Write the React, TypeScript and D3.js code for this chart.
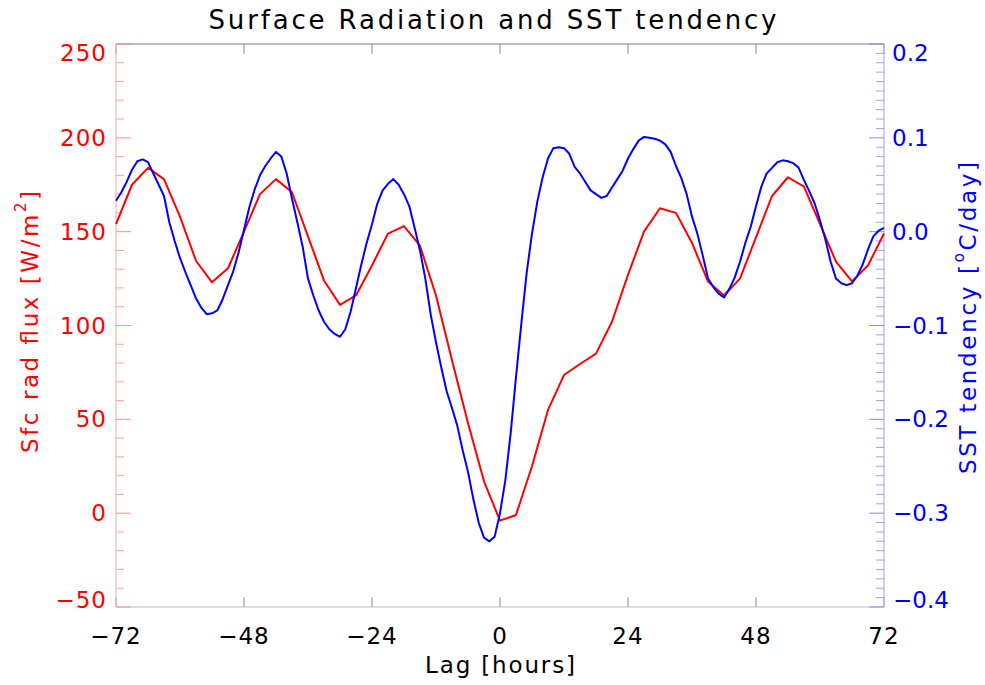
import React from "react";
import * as d3 from "d3";

const W = 985;
const H = 685;

// Red: surface radiative flux, every 3 hours from -72 to 72
const redHours = d3.range(-72, 73, 3);
const redValues = [
  154, 175, 184, 178, 158, 134.5, 123, 130.5, 150, 170, 178, 171, 147.5, 124, 111, 116, 132,
  149, 153, 142.5, 116, 81.5, 48, 17, -4, -1, 25, 55, 73.6, 79.5, 85, 102, 127, 150, 162.5,
  160, 144, 123.5, 116, 125, 147, 169, 179, 174, 154, 134, 123.5, 132, 149,
];

// Blue: SST tendency, hourly from -72 to 72
const blueHours = d3.range(-72, 73, 1);
const blueValues = [
  0.033, 0.042, 0.053, 0.066, 0.075, 0.077, 0.074, 0.062, 0.05, 0.038, 0.01, -0.01, -0.028,
  -0.043, -0.057, -0.071, -0.081, -0.088, -0.087, -0.084, -0.072, -0.057, -0.042, -0.022,
  0.002, 0.026, 0.045, 0.06, 0.07, 0.078, 0.085, 0.08, 0.062, 0.035, 0.01, -0.016, -0.05,
  -0.068, -0.084, -0.096, -0.104, -0.109, -0.112, -0.104, -0.085, -0.06, -0.035, -0.012,
  0.008, 0.03, 0.044, 0.051, 0.056, 0.05, 0.04, 0.027, 0.004, -0.02, -0.05, -0.088, -0.118,
  -0.145, -0.17, -0.188, -0.207, -0.233, -0.256, -0.285, -0.31, -0.326, -0.33, -0.325, -0.3,
  -0.265, -0.215, -0.155, -0.098, -0.044, -0.002, 0.032, 0.058, 0.078, 0.089, 0.09, 0.089,
  0.083, 0.069, 0.062, 0.053, 0.044, 0.04, 0.036, 0.038, 0.047, 0.056, 0.065, 0.078, 0.088,
  0.097, 0.101, 0.1, 0.099, 0.097, 0.093, 0.085, 0.07, 0.057, 0.04, 0.016, -0.002, -0.025,
  -0.05, -0.059, -0.066, -0.07, -0.061, -0.049, -0.032, -0.012, 0.005, 0.027, 0.048, 0.062,
  0.068, 0.074, 0.076, 0.075, 0.073, 0.068, 0.055, 0.043, 0.03, 0.012, -0.008, -0.032, -0.05,
  -0.055, -0.057, -0.055, -0.047, -0.035, -0.019, -0.005, 0.001, 0.004,
];

const xTicks = [-72, -48, -24, 0, 24, 48, 72];
const leftTicks = [-50, 0, 50, 100, 150, 200, 250];
const rightTicks = [-0.4, -0.3, -0.2, -0.1, 0.0, 0.1, 0.2];

const title = "Surface Radiation and SST tendency";
const xTitle = "Lag [hours]";

const L = 116, R = 884, T = 44, B = 607;
const FONT = "DejaVu Sans";

const fmtMinus = (s: string) => s.replace("-", "\u2212");

export default function App() {
  const x = d3.scaleLinear().domain([-72, 72]).range([L, R]);
  const yL = d3.scaleLinear().domain([-50, 250]).range([B, T]);
  const yR = d3.scaleLinear().domain([-0.4, 0.2]).range([B, T]);

  const redLine = d3
    .line<number>()
    .x((_, i) => x(redHours[i]))
    .y((d) => yL(d));
  const blueLine = d3
    .line<number>()
    .x((_, i) => x(blueHours[i]))
    .y((d) => yR(d));

  const leftMinor = d3.range(-50, 251, 10);
  const rightMinor = d3.range(-40, 21, 1).map((v) => v / 100);

  const labelY = (py: number) => (py <= T + 1 ? py + 9 : py >= B - 1 ? py - 7 : py);

  return (
    <svg
      width={W}
      height={H}
      style={{ position: "absolute", left: 0, top: 0, background: "#fff" }}
      fontFamily={FONT}
    >
      <rect x={0} y={0} width={W} height={H} fill="#fff" />
      {/* x axes top and bottom */}
      <line x1={L} x2={R} y1={T} y2={T} stroke="#7a7a7a" strokeWidth={1} />
      <line x1={L} x2={R} y1={B} y2={B} stroke="#bdbdbd" strokeWidth={1} />
      {xTicks.map((t) => (
        <g key={"xt" + t}>
          <line x1={x(t)} x2={x(t)} y1={B} y2={B - 10} stroke="#8a8a8a" />
          <line x1={x(t)} x2={x(t)} y1={T} y2={T + 10} stroke="#8a8a8a" />
          <text
            x={x(t)}
            y={636}
            fontSize={23}
            textAnchor="middle"
            dominantBaseline="central"
            fill="#000"
            letterSpacing={1}
          >
            {fmtMinus(String(t))}
          </text>
        </g>
      ))}
      <text
        x={(L + R) / 2}
        y={665}
        fontSize={23}
        textAnchor="middle"
        dominantBaseline="central"
        textLength={150}
        lengthAdjust="spacing"
      >
        {xTitle}
      </text>

      {/* left axis */}
      <line x1={L} x2={L} y1={T} y2={B} stroke="#ffb0b0" strokeWidth={1.2} />
      {leftMinor.map((v) => (
        <line
          key={"lm" + v}
          x1={L}
          x2={v % 50 === 0 ? L + 15 : L + 8}
          y1={yL(v)}
          y2={yL(v)}
          stroke={v % 50 === 0 ? "#ff8c8c" : "#ffa0a0"}
        />
      ))}
      {leftTicks.map((v) => (
        <text
          key={"lt" + v}
          x={107}
          y={labelY(yL(v))}
          fontSize={23}
          textAnchor="end"
          dominantBaseline="central"
          fill="#ff0000"
          letterSpacing={1}
        >
          {fmtMinus(String(v))}
        </text>
      ))}
      <text
        transform={`translate(30,322) rotate(-90)`}
        fontSize={23}
        textAnchor="middle"
        dominantBaseline="central"
        fill="#ff0000"
        textLength={262}
        lengthAdjust="spacing"
      >
        Sfc rad flux [W/m
        <tspan fontSize={15} dy={-9}>2</tspan>
        <tspan dy={9}>]</tspan>
      </text>

      {/* right axis */}
      <line x1={R} x2={R} y1={T} y2={B} stroke="#b0b0ff" strokeWidth={1.2} />
      {rightMinor.map((v, i) => {
        const major = Math.round(v * 100) % 10 === 0;
        return (
          <line
            key={"rm" + i}
            x1={R}
            x2={major ? R - 15 : R - 8}
            y1={yR(v)}
            y2={yR(v)}
            stroke={major ? "#8c8cff" : "#a0a0ff"}
          />
        );
      })}
      {rightTicks.map((v) => (
        <text
          key={"rt" + v}
          x={v < 0 ? 893 : 892}
          y={labelY(yR(v))}
          fontSize={23}
          textAnchor="start"
          dominantBaseline="central"
          fill="#0000ff"
        >
          {fmtMinus(v.toFixed(1))}
        </text>
      ))}
      <text
        transform={`translate(968,318) rotate(-90)`}
        fontSize={23}
        textAnchor="middle"
        dominantBaseline="central"
        fill="#0000ff"
        textLength={312}
        lengthAdjust="spacing"
      >
        SST tendency [
        <tspan fontSize={15} dy={-9}>o</tspan>
        <tspan dy={9}>C/day]</tspan>
      </text>

      {/* title */}
      <text
        x={W / 2}
        y={20}
        fontSize={26}
        textAnchor="middle"
        dominantBaseline="central"
        fill="#000"
        textLength={568}
        lengthAdjust="spacing"
      >
        {title}
      </text>

      {/* data */}
      <path d={redLine(redValues) || ""} fill="none" stroke="#ff0000" strokeWidth={2} strokeLinejoin="round" />
      <path d={blueLine(blueValues) || ""} fill="none" stroke="#0000ff" strokeWidth={2} strokeLinejoin="round" />
    </svg>
  );
}
